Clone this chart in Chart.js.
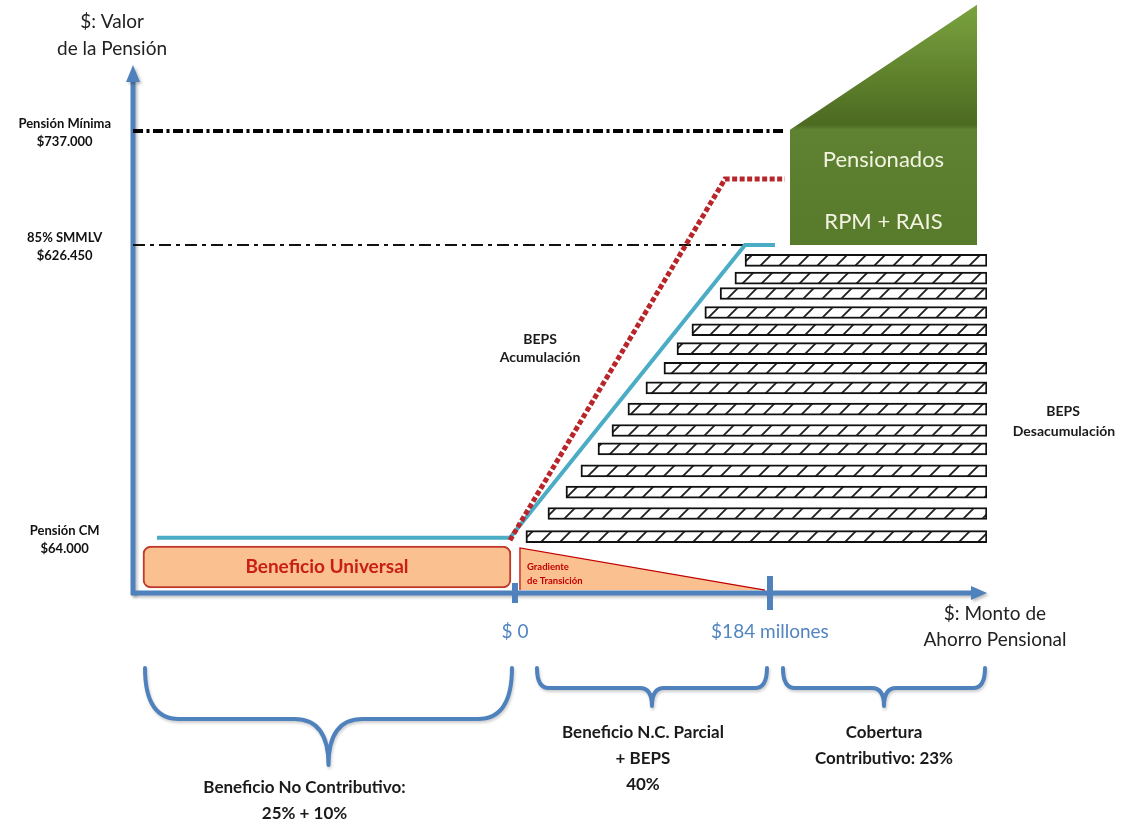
<!DOCTYPE html>
<html lang="es">
<head>
<meta charset="utf-8">
<title>Esquema de protección a la vejez</title>
<script src="https://cdn.jsdelivr.net/npm/chart.js@4.4.0/dist/chart.umd.min.js"></script>
<style>
  html, body { margin: 0; padding: 0; background: #fff; }
  #wrap { width: 1130px; height: 829px; }
</style>
</head>
<body>
<div id="wrap"><canvas id="esquema"></canvas></div>
<script>
// eje x: ahorro pensional (millones, esquemático); eje y: valor de la pensión (escala esquemática)
const xMin = -275.6;
const xMax = 340.6;
const xTickValues = [0, 184];
const xTickLabels = ['$ 0', '$184 millones'];

const levelValues = [9.3, 58.7, 77.9];
const levelLabels = [
  ['Pensión CM', '$64.000'],
  ['85% SMMLV', '$626.450'],
  ['Pensión Mínima', '$737.000']
];

// líneas de referencia (tramo en x)
const minimaSpan = [xMin, 194.8];
const smmlvSpan = [xMin, 166];

// pensión con ahorro (línea celeste)
const contribX = [-258.3, -3.6, 166, 187.6];
const contribY = [9.3, 9.3, 58.7, 58.7];

// BEPS acumulación (punteado rojo)
const bepsAccX = [-3.6, 151.5, 194.8];
const bepsAccY = [8.9, 69.8, 69.8];

// BEPS desacumulación: una barra por fila
const bepsRowY = [56.1, 53.1, 50.5, 47.3, 44.4, 41.2, 37.9, 34.6, 31.0, 27.4, 24.3, 20.6, 17.0, 13.4, 9.5];
const bepsStart = [166, 158.7, 148, 137, 127.7, 116.9, 107.5, 94.5, 81.5, 70, 59.9, 47.6, 36.8, 23.8, 7.9];
const bepsEnd = 340.6;

// pensionados RPM + RAIS
const pensionadosX = [198.4, 333.4];
const pensionadosY = [78.1, 99.2];
const pensionadosBase = 58.7;

// beneficio universal y gradiente de transición
const universalRange = [-268.4, -2.9];
const universalY = 4.38;
const gradienteX = [3.6, 3.6, 180.4];
const gradienteY = [0.5, 7.6, 0.5];

// tramos de cobertura
const segments = [[xMin, 0], [0, 184], [184, xMax]];
const segmentLabels = [
  ['Beneficio No Contributivo:', '25% + 10%'],
  ['Beneficio N.C. Parcial', '+ BEPS', '40%'],
  ['Cobertura', 'Contributivo: 23%']
];

const FONT = 'Lato, "Open Sans", sans-serif';
const BLUE = '#4f81bd';

const pts = (xs, ys) => xs.map((x, i) => ({ x: x, y: ys[i] }));

// rayado diagonal continuo para las barras BEPS
function hatchPattern() {
  const s = 19;
  const c = document.createElement('canvas');
  c.width = s; c.height = s;
  const g = c.getContext('2d');
  g.fillStyle = '#fff';
  g.fillRect(0, 0, s, s);
  g.strokeStyle = '#1e1e1e';
  g.lineWidth = 1.8;
  g.beginPath();
  g.moveTo(0, s); g.lineTo(s, 0);
  g.moveTo(-2, 2); g.lineTo(2, -2);
  g.moveTo(s - 2, s + 2); g.lineTo(s + 2, s - 2);
  g.stroke();
  return g.createPattern(c, 'repeat');
}

function greenFill(context) {
  const chart = context.chart;
  if (!chart.chartArea) return '#5b7d2c';
  const y = chart.scales.y;
  const top = y.getPixelForValue(pensionadosY[1]);
  const bottom = y.getPixelForValue(pensionadosBase);
  const g = chart.ctx.createLinearGradient(0, top, 0, bottom);
  g.addColorStop(0, '#7aa33e');
  g.addColorStop(0.5, '#4c6a21');
  g.addColorStop(0.52, '#5f8232');
  g.addColorStop(1, '#587a2b');
  return g;
}

function text(ctx, str, x, y, font, color, align) {
  ctx.font = font;
  ctx.fillStyle = color;
  ctx.textAlign = align || 'center';
  ctx.textBaseline = 'middle';
  ctx.fillText(str, x, y);
}

function brace(ctx, x0, x1, top, mid, tip, r) {
  const cx = (x0 + x1) / 2;
  ctx.beginPath();
  ctx.moveTo(x0, top);
  ctx.quadraticCurveTo(x0, mid, x0 + r, mid);
  ctx.lineTo(cx - r, mid);
  ctx.quadraticCurveTo(cx, mid, cx, tip);
  ctx.moveTo(x1, top);
  ctx.quadraticCurveTo(x1, mid, x1 - r, mid);
  ctx.lineTo(cx + r, mid);
  ctx.quadraticCurveTo(cx, mid, cx, tip);
  ctx.stroke();
}

// geometría de las llaves (px) por tramo
const braceStyle = [
  { inL: 12, inR: 3, top: 668, mid: 719, tip: 765, r: 34, textY: 788, dx: -24 },
  { inL: 22, inR: 3, top: 668, mid: 688, tip: 706, r: 12, textY: 733, dx: -9 },
  { inL: 13, inR: 2, top: 668, mid: 688, tip: 706, r: 12, textY: 733, dx: 0 }
];

const diagramPlugin = {
  id: 'diagram',
  beforeDatasetsDraw(chart) {
    const ctx = chart.ctx;
    const area = chart.chartArea;
    const y0 = chart.scales.y.getPixelForValue(0);
    ctx.save();
    ctx.shadowColor = 'rgba(0,0,0,0.25)';
    ctx.shadowBlur = 3;
    ctx.shadowOffsetX = 2;
    ctx.shadowOffsetY = 2;
    ctx.strokeStyle = BLUE;
    ctx.fillStyle = BLUE;
    ctx.lineWidth = 5;
    // eje vertical con flecha
    ctx.beginPath();
    ctx.moveTo(area.left, y0 + 2);
    ctx.lineTo(area.left, 80);
    ctx.stroke();
    ctx.beginPath();
    ctx.moveTo(area.left - 7, 82);
    ctx.lineTo(area.left + 7, 82);
    ctx.lineTo(area.left, 65);
    ctx.closePath();
    ctx.fill();
    // eje horizontal con flecha
    ctx.beginPath();
    ctx.moveTo(area.left - 2, y0);
    ctx.lineTo(area.right - 14, y0);
    ctx.stroke();
    ctx.beginPath();
    ctx.moveTo(area.right - 16, y0 - 7);
    ctx.lineTo(area.right - 16, y0 + 7);
    ctx.lineTo(area.right, y0);
    ctx.closePath();
    ctx.fill();
    ctx.restore();
  },
  afterDatasetsDraw(chart) {
    const ctx = chart.ctx;
    const x = chart.scales.x;
    const y = chart.scales.y;
    ctx.save();
    text(ctx, 'Beneficio Universal', x.getPixelForValue((universalRange[0] + universalRange[1]) / 2), y.getPixelForValue(universalY),
      'bold 19px ' + FONT, '#c81e14');
    text(ctx, 'Gradiente', 527, 567, 'bold 9.5px ' + FONT, '#c00000', 'left');
    text(ctx, 'de Transición', 527, 581, 'bold 9.5px ' + FONT, '#c00000', 'left');
    const gx = x.getPixelForValue((pensionadosX[0] + pensionadosX[1]) / 2);
    text(ctx, 'Pensionados', gx, 160, '22px ' + FONT, '#f3f3e2');
    text(ctx, 'RPM + RAIS', gx, 222, '22px ' + FONT, '#f3f3e2');
    text(ctx, 'BEPS', 540, 339, 'bold 14px ' + FONT, '#1a1a1a');
    text(ctx, 'Acumulación', 540, 357, 'bold 14px ' + FONT, '#1a1a1a');
    text(ctx, 'BEPS', 1063, 411, 'bold 14px ' + FONT, '#1a1a1a');
    text(ctx, 'Desacumulación', 1064, 431, 'bold 14px ' + FONT, '#1a1a1a');
    ctx.restore();
  },
  afterDraw(chart) {
    const ctx = chart.ctx;
    const x = chart.scales.x;
    ctx.save();
    text(ctx, '$: Valor', 112, 22, '19px ' + FONT, '#222');
    text(ctx, 'de la Pensión', 112, 49, '19px ' + FONT, '#222');
    text(ctx, '$: Monto de', 995, 614, '19px ' + FONT, '#222');
    text(ctx, 'Ahorro Pensional', 995, 640, '19px ' + FONT, '#222');

    segments.forEach((seg, i) => {
      const s = braceStyle[i];
      const x0 = x.getPixelForValue(seg[0]) + s.inL;
      const x1 = x.getPixelForValue(seg[1]) - s.inR;
      ctx.save();
      ctx.shadowColor = 'rgba(0,0,0,0.2)';
      ctx.shadowBlur = 3;
      ctx.shadowOffsetX = 1;
      ctx.shadowOffsetY = 2;
      ctx.strokeStyle = BLUE;
      ctx.lineWidth = 4;
      ctx.lineCap = 'round';
      brace(ctx, x0, x1, s.top, s.mid, s.tip, s.r);
      ctx.restore();
      const cx = (x0 + x1) / 2 + s.dx;
      segmentLabels[i].forEach((line, j) => {
        text(ctx, line, cx, s.textY + j * 26, 'bold 17px ' + FONT, '#1a1a1a');
      });
    });
    ctx.restore();
  }
};

const datasets = [
  {
    // marcas de $0 y $184 millones sobre el eje
    type: 'line',
    data: pts(xTickValues, [0, 0]),
    showLine: false,
    pointStyle: 'line',
    rotation: 90,
    pointRadius: [10, 17],
    pointBorderWidth: 6,
    pointBorderColor: BLUE,
    clip: false
  },
  {
    type: 'line',
    data: pts(bepsAccX, bepsAccY),
    borderColor: '#b8262a',
    borderWidth: 5,
    borderDash: [5, 2.5],
    pointRadius: 0,
    fill: false
  },
  {
    type: 'line',
    data: pts(contribX, contribY),
    borderColor: '#4bacc6',
    borderWidth: 4,
    pointRadius: 0,
    fill: false
  },
  {
    type: 'line',
    data: pts(minimaSpan, [levelValues[2], levelValues[2]]),
    borderColor: '#000',
    borderWidth: 4,
    borderDash: [10, 3.5, 3, 3.5],
    pointRadius: 0,
    fill: false
  },
  {
    type: 'line',
    data: pts(smmlvSpan, [levelValues[1], levelValues[1]]),
    borderColor: '#111',
    borderWidth: 2,
    borderDash: [12, 5, 4, 5],
    pointRadius: 0,
    fill: false
  },
  {
    type: 'bar',
    indexAxis: 'y',
    grouped: false,
    data: [{ x: universalRange, y: universalY }],
    barThickness: 42,
    backgroundColor: '#fac090',
    borderColor: '#c0392b',
    borderWidth: 2,
    borderRadius: 8,
    borderSkipped: false
  },
  {
    type: 'line',
    data: pts(gradienteX, gradienteY),
    borderColor: '#c00000',
    borderWidth: 1.2,
    backgroundColor: '#fac090',
    pointRadius: 0,
    fill: { value: gradienteY[0] }
  },
  {
    type: 'line',
    data: pts(pensionadosX, pensionadosY),
    borderColor: 'rgba(0,0,0,0)',
    borderWidth: 0,
    backgroundColor: greenFill,
    pointRadius: 0,
    fill: { value: pensionadosBase },
    clip: false
  },
  {
    type: 'bar',
    indexAxis: 'y',
    grouped: false,
    data: bepsRowY.map((yv, i) => ({ x: [bepsStart[i], bepsEnd], y: yv })),
    barThickness: 12,
    backgroundColor: hatchPattern(),
    borderColor: '#111',
    borderWidth: 2,
    borderSkipped: false
  }
];

new Chart(document.getElementById('esquema'), {
  type: 'line',
  data: { datasets: datasets },
  plugins: [diagramPlugin],
  options: {
    responsive: true,
    maintainAspectRatio: false,
    animation: false,
    events: [],
    layout: { autoPadding: false, padding: { top: 0, right: 143, bottom: 0, left: 0 } },
    plugins: { legend: { display: false }, tooltip: { enabled: false } },
    scales: {
      x: {
        type: 'linear',
        min: xMin,
        max: xMax,
        offset: false,
        grid: { display: false, offset: false },
        border: { display: false },
        afterBuildTicks: (scale) => { scale.ticks = xTickValues.map(v => ({ value: v })); },
        afterFit: (scale) => { scale.height = 236; scale.paddingLeft = 0; scale.paddingRight = 0; },
        ticks: {
          autoSkip: false,
          maxRotation: 0,
          padding: 19,
          color: '#5285c2',
          font: { family: FONT, size: 19 },
          callback: (v, i) => xTickLabels[i]
        }
      },
      y: {
        type: 'linear',
        min: 0,
        max: 100,
        offset: false,
        grid: { display: false, offset: false },
        border: { display: false },
        afterBuildTicks: (scale) => { scale.ticks = levelValues.map(v => ({ value: v })); },
        afterFit: (scale) => { scale.width = 133; scale.paddingTop = 0; scale.paddingBottom = 0; },
        ticks: {
          crossAlign: 'center',
          padding: 14,
          labelOffset: 2,
          color: '#111',
          font: { family: FONT, size: 13, weight: 'bold', lineHeight: 1.4 },
          callback: (v, i) => levelLabels[i]
        }
      }
    }
  }
});
</script>
</body>
</html>
